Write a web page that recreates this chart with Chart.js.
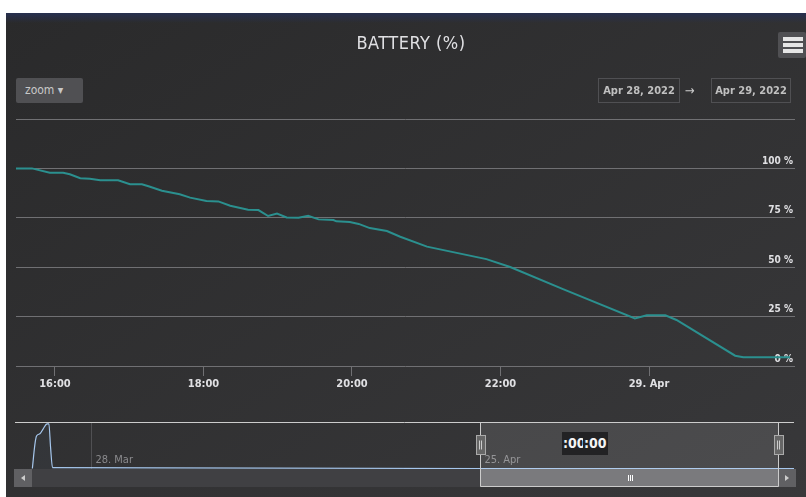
<!DOCTYPE html>
<html><head><meta charset="utf-8">
<script src="https://cdn.jsdelivr.net/npm/chart.js@4/dist/chart.umd.min.js"></script>
<style>
html,body{margin:0;padding:0;background:#fff;width:806px;height:497px;overflow:hidden;position:relative;}
#wrap{position:absolute;left:6px;top:13px;width:800px;height:484px;background:linear-gradient(to bottom right,#2a2a2b,#38383a);}
#navy{position:absolute;left:6px;top:13px;width:800px;height:10px;background:linear-gradient(#273050,rgba(42,42,43,0));}
canvas{position:absolute;left:0;}
.t{position:absolute;font-family:'DejaVu Sans Condensed','Liberation Sans Narrow',sans-serif;color:#E0E0E3;white-space:nowrap;}
#title{left:0;width:822px;top:32px;text-align:center;font-size:18px;letter-spacing:0.5px;}
#zoom{left:16px;top:78px;width:67px;height:25px;background:#505053;border-radius:2px;font-size:12px;line-height:25px;color:#c8c8c8;padding-left:9px;box-sizing:border-box;}
.db{top:78px;height:25px;border:1px solid #505053;box-sizing:border-box;font-size:11px;font-weight:bold;line-height:23px;text-align:center;color:#c0c0c0;}
#arrow{left:685px;top:83px;font-size:13px;color:#cccccc;}
#menu{left:778px;top:32px;width:28px;height:26px;background:#505053;border-radius:2px;}
.bar{position:absolute;left:783px;width:20px;height:4px;background:#e6e6e6;}
.lab{top:432px;height:23px;line-height:23px;background:#222224;color:#f4f4f4;font-weight:bold;font-size:14px;padding:0 1px;}
</style></head>
<body>
<div id="wrap"></div>
<div id="navy"></div>
<canvas id="main" width="806" height="400" style="top:0"></canvas>
<canvas id="nav" width="806" height="84" style="top:413px"></canvas>
<div class="t" id="title">BATTERY (%)</div>
<div class="t" id="zoom">zoom ▾</div>
<div class="t db" style="left:598px;width:82px;">Apr 28, 2022</div>
<div class="t" id="arrow">→</div>
<div class="t db" style="left:711px;width:80px;">Apr 29, 2022</div>
<div class="t" id="menu"></div>
<div class="bar" style="top:37px"></div>
<div class="bar" style="top:43px"></div>
<div class="bar" style="top:49px"></div>
<div class="t lab" style="left:562px;">:00</div>
<div class="t lab" style="left:583px;">:00</div>
<script>
// ---- data (hours since 28 Apr 00:00) ----
const hours = [15.47, 15.69, 15.93, 16.11, 16.2, 16.34, 16.47, 16.61, 16.85, 17.01, 17.17, 17.26, 17.44, 17.68, 17.82, 18.04, 18.2, 18.36, 18.6, 18.74, 18.87, 18.99, 19.12, 19.28, 19.41, 19.55, 19.75, 19.79, 19.97, 20.09, 20.24, 20.47, 20.65, 21.01, 21.81, 22.13, 22.85, 23.81, 23.97, 24.22, 24.37, 25.16, 25.27, 25.9];
const battery = [100, 100, 97.8, 97.8, 97, 95, 94.8, 94, 94, 92, 92, 91, 88.7, 86.9, 85.2, 83.5, 83.3, 81.1, 79.1, 78.9, 75.9, 77.1, 75.2, 75, 76, 74.2, 73.9, 73.2, 72.9, 71.9, 69.8, 68.3, 65.4, 60.4, 54.1, 50.1, 38.8, 24.1, 25.7, 25.7, 23.3, 5.2, 4.4, 4.4];
const xTickValues = [16, 18, 20, 22, 24];
const xTickLabels = ['16:00', '18:00', '20:00', '22:00', '29. Apr'];
const yTickValues = [0, 25, 50, 75, 100, 125];
// navigator (days since 28 Mar)
const navDays = [-4.25, -4.07, -3.95, -3.71, -3.48, -3.19, -3.06, -2.94, -2.80, 28, 50.57];
const navValues = [1, 52, 70, 75, 85, 96, 96, 46, 3, 1, 1];
const navTickDays = [0, 28];
const navTickLabels = ['28. Mar', '25. Apr'];
const navRange = [28, 49.4];

const FONT = "'DejaVu Sans Condensed','Liberation Sans Narrow',sans-serif";

new Chart(document.getElementById('main'), {
  type: 'line',
  data: { datasets: [{ data: hours.map((h, i) => ({ x: h, y: battery[i] })), borderColor: '#2b908f', borderWidth: 2, pointRadius: 0, tension: 0, fill: false }] },
  options: {
    responsive: false, animation: false, devicePixelRatio: 1,
    layout: { padding: { left: 16, right: 11, top: 119, bottom: 0 } },
    plugins: { legend: { display: false }, tooltip: { enabled: false } },
    scales: {
      x: {
        type: 'linear', min: 15.475, max: 25.966,
        afterBuildTicks: s => { s.ticks = xTickValues.map(v => ({ value: v })); },
        afterFit: s => { s.height = 34; },
        border: { display: false },
        grid: { drawOnChartArea: false, drawTicks: true, tickLength: 10, color: '#707073' },
        ticks: { color: '#E0E0E3', font: { family: FONT, size: 11, weight: 'bold' }, padding: 2, maxRotation: 0, autoSkip: false,
          callback: v => { const i = xTickValues.indexOf(v); return i >= 0 ? xTickLabels[i] : ''; } }
      },
      y: {
        position: 'right', min: 0, max: 125,
        afterBuildTicks: s => { s.ticks = yTickValues.map(v => ({ value: v })); },
        afterFit: s => { s.width = 0; },
        border: { display: false },
        grid: { color: '#707073', drawTicks: false, lineWidth: 1 },
        ticks: { mirror: true, padding: -2, labelOffset: -7, color: '#E0E0E3', font: { family: FONT, size: 10, weight: 'bold' },
          callback: v => v === 125 ? '' : v + ' %' }
      }
    }
  }
});

const navDeco = {
  id: 'navDeco',
  beforeDatasetsDraw(c) {
    const ctx = c.ctx, xs = c.scales.x;
    ctx.save();
    ctx.font = '11px ' + FONT; ctx.fillStyle = '#8a8a8d'; ctx.textBaseline = 'middle'; ctx.textAlign = 'left';
    navTickDays.forEach((d, i) => ctx.fillText(navTickLabels[i], xs.getPixelForValue(d) + 4, 47));
    ctx.restore();
  },
  afterDraw(c) {
    const ctx = c.ctx, a = c.chartArea, xs = c.scales.x;
    const x1 = Math.round(xs.getPixelForValue(navRange[0])) + 0.5, x2 = Math.round(xs.getPixelForValue(navRange[1])) + 0.5;
    const tt = a.bottom, th = 18;
    ctx.save();
    // track
    ctx.fillStyle = '#404043'; ctx.fillRect(14, tt, 782, th);
    ctx.fillStyle = '#606063'; ctx.fillRect(14, tt, 18, th); ctx.fillRect(x2, tt, 796 - x2, th);
    ctx.fillStyle = '#cccccc';
    ctx.beginPath(); ctx.moveTo(21, tt + 9); ctx.lineTo(25, tt + 6); ctx.lineTo(25, tt + 12); ctx.closePath(); ctx.fill();
    ctx.beginPath(); ctx.moveTo(789, tt + 9); ctx.lineTo(785, tt + 6); ctx.lineTo(785, tt + 12); ctx.closePath(); ctx.fill();
    // mask
    ctx.fillStyle = 'rgba(255,255,255,0.1)'; ctx.fillRect(x1, a.top, x2 - x1, a.bottom - a.top);
    // thumb
    ctx.fillStyle = '#7a7a7d'; ctx.fillRect(x1, tt, x2 - x1, th);
    const cx = Math.round((x1 + x2) / 2);
    ctx.strokeStyle = '#ffffff'; ctx.lineWidth = 1;
    [-2, 0, 2].forEach(o => { ctx.beginPath(); ctx.moveTo(cx + o + 0.5, tt + 6); ctx.lineTo(cx + o + 0.5, tt + 12); ctx.stroke(); });
    // outline
    ctx.strokeStyle = '#cccccc'; ctx.lineWidth = 1;
    ctx.beginPath(); ctx.moveTo(15, a.top + 0.5); ctx.lineTo(794, a.top + 0.5); ctx.stroke();
    ctx.beginPath(); ctx.moveTo(x1, a.top); ctx.lineTo(x1, tt + th - 0.5); ctx.lineTo(x2, tt + th - 0.5); ctx.lineTo(x2, a.top); ctx.stroke();
    // handles
    [x1, x2].forEach(x => {
      const hx = Math.round(x - 4.5) + 0.5, hy = a.top + 13.5;
      ctx.fillStyle = '#666666'; ctx.fillRect(hx, hy, 9, 19);
      ctx.strokeStyle = '#aaaaaa'; ctx.strokeRect(hx, hy, 9, 19);
      ctx.strokeStyle = '#cccccc';
      [3, 5].forEach(o => { ctx.beginPath(); ctx.moveTo(hx + o, hy + 5); ctx.lineTo(hx + o, hy + 14); ctx.stroke(); });
    });
    ctx.restore();
  }
};

new Chart(document.getElementById('nav'), {
  type: 'line',
  data: { datasets: [{ data: navDays.map((d, i) => ({ x: d, y: navValues[i] })), borderColor: '#A6C7ED', borderWidth: 1.2, pointRadius: 0, cubicInterpolationMode: 'monotone', fill: 'origin', backgroundColor: 'rgba(119,152,191,0.05)' }] },
  options: {
    responsive: false, animation: false, devicePixelRatio: 1,
    layout: { padding: { left: 15, right: 12, top: 9, bottom: 28 } },
    plugins: { legend: { display: false }, tooltip: { enabled: false } },
    scales: {
      x: {
        type: 'linear', min: -5.5, max: 50.57,
        afterBuildTicks: s => { s.ticks = navTickDays.map(v => ({ value: v })); },
        afterFit: s => { s.height = 0; },
        border: { display: false },
        grid: { color: '#505053', drawTicks: false },
        ticks: { display: false }
      },
      y: { display: false, min: 0, max: 100 }
    }
  },
  plugins: [navDeco]
});
</script>
</body></html>
